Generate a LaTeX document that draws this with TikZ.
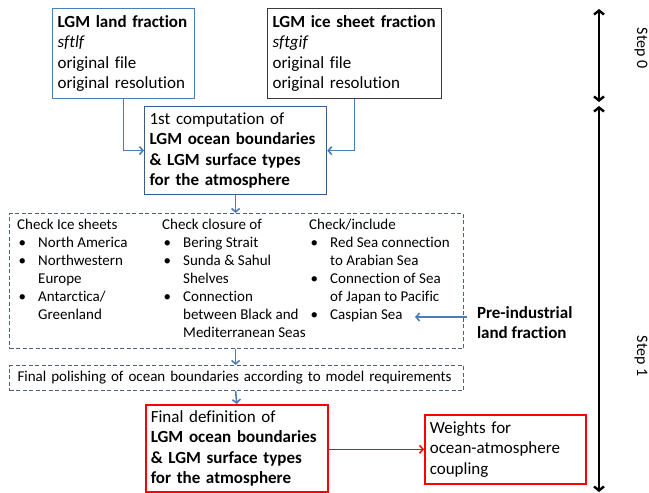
\documentclass[tikz,border=0pt]{standalone}
\usepackage{fontspec}
\setmainfont{Carlito}[Ligatures=NoCommon]
\usetikzlibrary{arrows.meta}
\definecolor{cblue}{HTML}{4A7EBB}
\definecolor{cdark}{HTML}{385D8A}
\definecolor{cdash}{HTML}{4A6383}
\definecolor{cgray}{HTML}{3A3A3A}
\definecolor{cred}{HTML}{FF0000}
\newcommand{\bul}{\makebox[21pt][l]{\hspace{1.5pt}\textbullet}}
\newcommand{\ind}{\makebox[21pt][l]{}}
\tikzset{
  box/.style={draw, line width=1.2pt, align=left, anchor=north west, inner xsep=5pt, inner ysep=0pt,
    font=\fontsize{17}{20.5}\selectfont},
  dbox/.style={draw=cdash, line width=1pt, dash pattern=on 4pt off 2.5pt, anchor=north west, inner sep=0pt},
  coltext/.style={align=left, anchor=north west, inner sep=0pt, font=\fontsize{15}{18}\selectfont},
  barrow/.style={draw=cblue, line width=1.6pt, -{Straight Barb[length=3.5pt,width=8pt]}},
  rarrow/.style={draw=cred, line width=1.5pt, -{Straight Barb[length=3.5pt,width=8pt]}},
  sarrow/.style={draw=black, line width=2.4pt, {Straight Barb[length=4pt,width=10pt]}-{Straight Barb[length=4pt,width=10pt]}},
  steplabel/.style={rotate=-90, inner sep=0pt, font=\fontsize{16}{18}\selectfont}
}
\begin{document}
\begin{tikzpicture}[x=1pt,y=-1pt]
\useasboundingbox (0,0) rectangle (649,493);

% top boxes
\node[box, draw=cblue, text width=132pt, minimum height=90pt] (land) at (52,8)
  {\mbox{\textbf{LGM land fraction}}\\\textit{sftlf}\\original file\\\mbox{original resolution}};
\node[box, draw=cgray, text width=164pt, minimum height=90pt] (ice) at (267,8)
  {\mbox{\textbf{LGM ice sheet fraction}}\\\textit{sftgif}\\original file\\original resolution};
\node[box, draw=cdark, text width=172pt, minimum height=88pt] (comp) at (144,106)
  {1st computation of\\\mbox{\textbf{LGM ocean boundaries}}\\\mbox{\textbf{\& LGM surface types}}\\\textbf{for the atmosphere}};

% dashed check box
\node[dbox, minimum width=454pt, minimum height=135pt] (check) at (9,213) {};
\node[coltext] (colA) at (17,219)
  {Check Ice sheets\\\bul North America\\\bul Northwestern\\\ind Europe\\\bul Antarctica/\\\ind Greenland};
\node[coltext] (colB) at (162,219)
  {Check closure of\\\bul Bering Strait\\\bul Sunda \& Sahul\\\ind Shelves\\\bul Connection\\\ind between Black and\\\ind Mediterranean Seas};
\node[coltext] (colC) at (309,219)
  {Check/include\\\bul Red Sea connection\\\ind to Arabian Sea\\\bul Connection of Sea\\\ind of Japan to Pacific\\\bul Caspian Sea};
\coordinate (casp) at (415,317);

% pre-industrial
\node[align=left, anchor=west, inner sep=0pt, outer xsep=10pt, font=\bfseries\fontsize{17}{20}\selectfont] (pi) at (467,323)
  {Pre-industrial\\land fraction};

% polishing box
\node[dbox, minimum width=454pt, minimum height=25pt, align=left, text width=438pt, inner xsep=8pt,
  font=\fontsize{15}{18}\selectfont] (polish) at (9,365)
  {Final polishing of ocean boundaries according to model requirements};

% final boxes
\node[box, draw=cred, line width=1.6pt, text width=172pt, minimum height=87pt] (final) at (145,404)
  {Final definition of\\\mbox{\textbf{LGM ocean boundaries}}\\\mbox{\textbf{\& LGM surface types}}\\\textbf{for the atmosphere}};
\node[box, draw=cred, line width=1.6pt, text width=151pt, minimum height=69pt] (weights) at (424,414)
  {Weights for\\ocean-atmosphere\\coupling};

% connectors
\draw[barrow] (land.south) |- (comp.west);
\draw[barrow] (ice.south) |- (comp.east);
\draw[barrow] (comp.south) -- (comp.south |- check.north);
\draw[barrow] (comp.south |- check.south) -- (comp.south |- polish.north);
\draw[barrow] (comp.south |- polish.south) -- (final.north);
\draw[barrow] (pi.west |- casp) -- (casp);
\draw[rarrow] (final.east |- weights.west) -- (weights.west);

% step arrows
\coordinate (s0a) at (599,9);
\coordinate (s0b) at (599,102);
\coordinate (s1a) at (599,106);
\coordinate (s1b) at (599,492);
\draw[sarrow] (s0a) -- (s0b);
\draw[sarrow] (s1a) -- (s1b);
\node[steplabel] (step0) at (641,48) {Step 0};
\node[steplabel] (step1) at (641,356) {Step 1};
\end{tikzpicture}
\end{document}
